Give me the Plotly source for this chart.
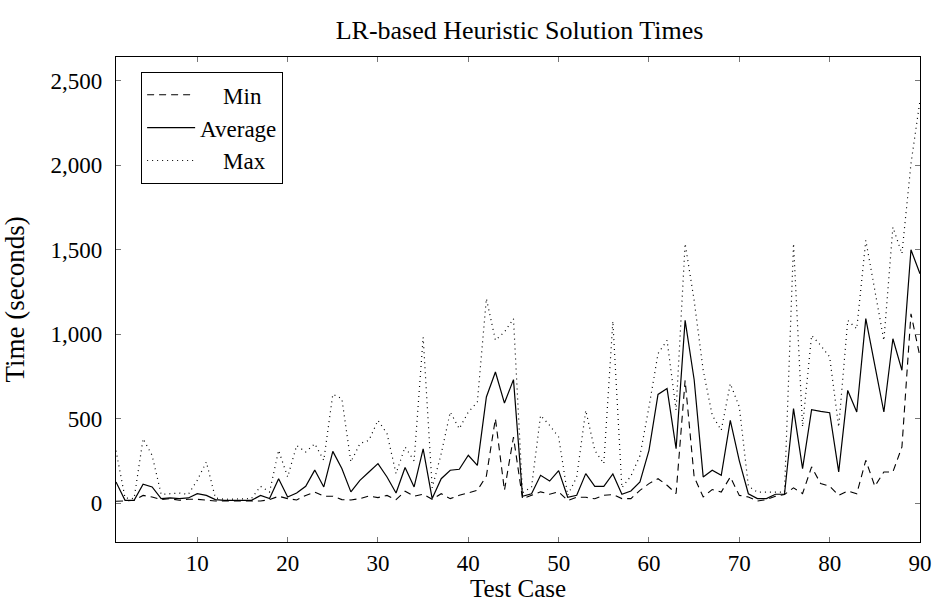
import plotly.graph_objects as go

test_case = list(range(1, 91))

min_time = [10, 15, 16, 45, 36, 20, 26, 16, 22, 22,
            16, 12, 12, 12, 12, 12, 12, 20, 40, 26,
            18, 45, 65, 40, 40, 20, 18, 26, 41, 32,
            45, 20, 70, 40, 52, 22, 55, 26, 46, 60,
            75, 160, 500, 75, 391, 25, 46, 66, 52, 66,
            15, 34, 34, 25, 46, 50, 26, 26, 75, 115,
            144, 105, 56, 727, 154, 36, 80, 65, 154, 45,
            36, 12, 20, 40, 50, 90, 56, 214, 115, 100,
            45, 71, 55, 253, 99, 184, 184, 332, 1121, 865]

avg_time = [125, 16, 16, 111, 95, 26, 30, 26, 30, 55,
            45, 20, 16, 16, 16, 16, 45, 26, 144, 36,
            59, 99, 195, 95, 306, 204, 66, 134, 184, 233,
            154, 59, 210, 95, 320, 26, 144, 194, 200, 283,
            223, 628, 776, 592, 731, 40, 55, 164, 130, 192,
            34, 46, 174, 99, 99, 172, 52, 71, 125, 312,
            643, 678, 322, 1082, 730, 154, 194, 164, 490, 250,
            55, 26, 26, 52, 52, 559, 204, 553, 543, 535,
            184, 667, 539, 1092, 815, 539, 973, 786, 1500, 1358]

max_time = [310, 30, 26, 381, 282, 51, 55, 59, 51, 135,
            243, 30, 22, 22, 26, 26, 99, 65, 312, 154,
            341, 302, 351, 253, 644, 618, 243, 352, 371, 490,
            411, 174, 332, 250, 982, 90, 292, 539, 440, 539,
            598, 1211, 964, 1013, 1092, 60, 95, 519, 460, 391,
            46, 154, 549, 312, 233, 1077, 90, 160, 280, 569,
            885, 964, 550, 1537, 1200, 786, 520, 431, 707, 569,
            100, 65, 65, 65, 65, 1537, 451, 993, 934, 865,
            450, 1082, 1032, 1556, 1259, 963, 1634, 1477, 2010, 2385]

x_ticks = [10, 20, 30, 40, 50, 60, 70, 80, 90]
y_ticks = [0, 500, 1000, 1500, 2000, 2500]

FONT = "Liberation Serif"
NB = "\u00a0"

fig = go.Figure()
fig.add_trace(go.Scatter(x=test_case, y=min_time, mode="lines", name=NB * 4 + "Min",
                         line=dict(color="black", width=1.1, dash="7px,5px")))
fig.add_trace(go.Scatter(x=test_case, y=avg_time, mode="lines", name="Average",
                         line=dict(color="black", width=1.2)))
fig.add_trace(go.Scatter(x=test_case, y=max_time, mode="lines", name=NB * 4 + "Max",
                         line=dict(color="black", width=1.2, dash="1px,4px")))

axis_common = dict(
    showline=True, linecolor="black", linewidth=1.2, mirror="ticks",
    ticks="inside", ticklen=5, tickcolor="#777", tickwidth=1,
    showgrid=False, zeroline=False, automargin=False,
    tickfont=dict(family=FONT, size=23, color="black"),
)

fig.update_layout(
    template="none",
    width=932, height=602,
    margin=dict(l=116, r=12, t=57, b=60),
    paper_bgcolor="white", plot_bgcolor="white",
    font=dict(family=FONT, color="black"),
    title=dict(text="LR-based Heuristic Solution Times", x=0.5574, xanchor="center",
               y=0.950, yanchor="middle", font=dict(family=FONT, size=26, color="black")),
    xaxis=dict(range=[1, 90], tickvals=x_ticks, ticklabelstandoff=0,
               title=dict(text="Test Case", font=dict(family=FONT, size=25), standoff=27),
               **axis_common),
    yaxis=dict(range=[-231, 2642], tickvals=y_ticks, tickformat=",d", ticklabelstandoff=8,
               title=dict(text="Time (seconds)", font=dict(family=FONT, size=27), standoff=25),
               **axis_common),
    legend=dict(x=0.031, y=0.969, xanchor="left", yanchor="top",
                bordercolor="black", borderwidth=1.2, bgcolor="white",
                font=dict(family=FONT, size=23, color="black"),
                tracegroupgap=0, itemwidth=48),
    showlegend=True,
)

fig.write_html("out.html", config={"displayModeBar": False},
               post_script="document.body.style.margin='0';")
